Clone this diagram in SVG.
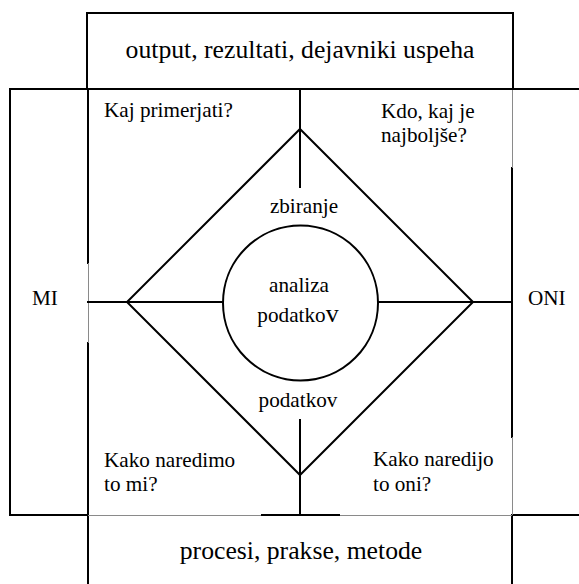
<svg xmlns="http://www.w3.org/2000/svg" width="579" height="584" viewBox="0 0 579 584">
  <style>
    .bold { fill: none; stroke: #000; stroke-width: 2; stroke-linecap: square; }
    .hair { fill: none; stroke: #8a8a8a; stroke-width: 1; }
    .big { font-family: "Liberation Serif", "Times New Roman", serif; font-size: 25.7px; fill: #000; }
    .lbl { font-family: "Liberation Serif", "Times New Roman", serif; font-size: 21.2px; fill: #000; }
  </style>
  <rect width="579" height="584" fill="#fff"/>

  <!-- top band: outputs -->
  <g id="outputs">
    <path class="bold" d="M87 89 V13 H513 V89"/>
    <text class="big" x="300" y="58" text-anchor="middle">output, rezultati, dejavniki uspeha</text>
  </g>

  <!-- bottom band: processes (open at the lower edge) -->
  <g id="processes">
    <path class="bold" d="M88 515 V584 M512 515 V584"/>
    <text class="big" x="301" y="559" text-anchor="middle">procesi, prakse, metode</text>
  </g>

  <!-- left band: MI -->
  <g id="mi">
    <path class="bold" d="M88 89 H10 V515 H88"/>
    <path class="bold" d="M88 89 V263 M88 343 V515"/>
    <path class="hair" d="M88.5 263 V343"/>
    <text class="lbl" x="32" y="305">MI</text>
  </g>

  <!-- right band: ONI -->
  <g id="oni">
    <path class="bold" d="M512 89 H579 M512 515 H579"/>
    <path class="bold" d="M512 168 V437"/>
    <path class="hair" d="M512.5 89 V168 M512.5 437 V515"/>
    <text class="lbl" x="528" y="305">ONI</text>
  </g>

  <!-- inner frame edges -->
  <g id="frame">
    <path class="bold" d="M88 89 H512"/>
    <path class="hair" d="M88 515.5 H262 M339 515.5 H512"/>
  </g>

  <!-- diamond with spokes -->
  <g id="connectors">
    <path class="bold" d="M300 129 L473 302 L300 475 L127 302 Z" stroke-linejoin="miter"/>
    <path class="bold" d="M300 89 V187"/>
    <path class="bold" d="M300 420 V515 M262 515 H339"/>
    <path class="bold" d="M88 302 H223"/>
    <path class="bold" d="M378 302 H512"/>
  </g>

  <!-- centre: data analysis -->
  <g id="analysis">
    <circle class="bold" cx="300.5" cy="303" r="77.5"/>
    <text class="lbl" x="299" y="292" text-anchor="middle">analiza</text>
    <text class="lbl" x="298" y="322" text-anchor="middle">podatko<tspan font-size="26px">v</tspan></text>
  </g>

  <g id="collect">
    <text class="lbl" x="304" y="213" text-anchor="middle">zbiranje</text>
  </g>
  <g id="data">
    <text class="lbl" x="298" y="407" text-anchor="middle">podatkov</text>
  </g>

  <!-- quadrant questions -->
  <g id="q-compare">
    <text class="lbl" x="104" y="117">Kaj primerjati?</text>
  </g>
  <g id="q-best">
    <text class="lbl" x="381" y="118">Kdo, kaj je</text>
    <text class="lbl" x="381" y="142">najboljše?</text>
  </g>
  <g id="q-we">
    <text class="lbl" x="104" y="467">Kako naredimo</text>
    <text class="lbl" x="104" y="491">to mi?</text>
  </g>
  <g id="q-they">
    <text class="lbl" x="373" y="466">Kako naredijo</text>
    <text class="lbl" x="373" y="491">to oni?</text>
  </g>
</svg>
